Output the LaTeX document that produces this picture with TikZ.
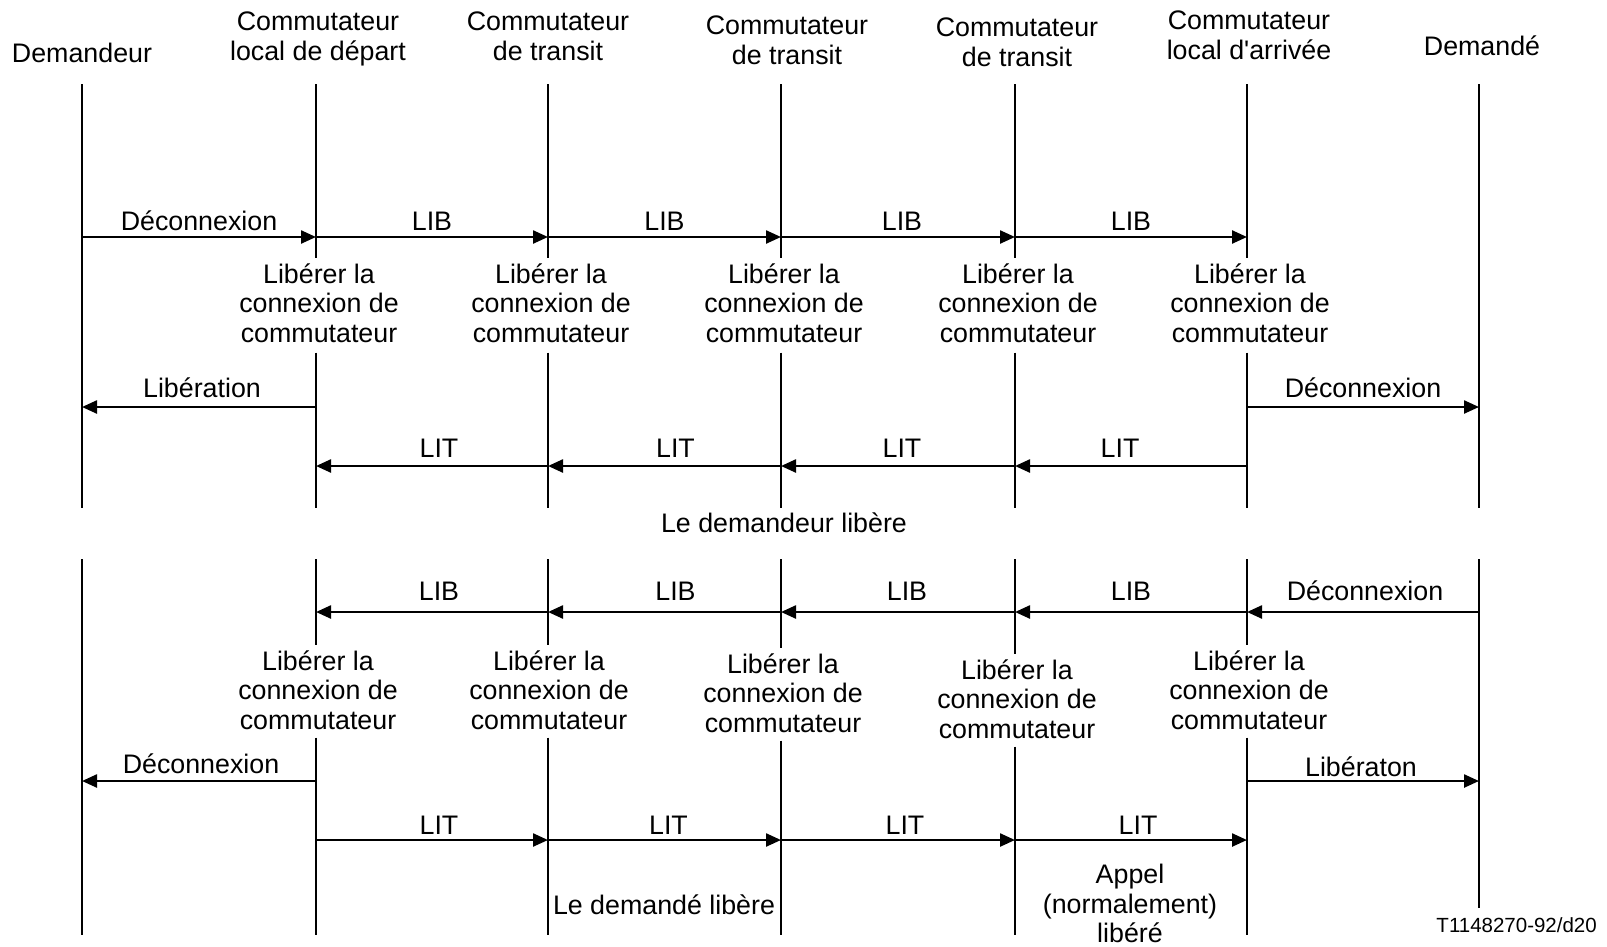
\documentclass[tikz,border=0pt]{standalone}
\usepackage{fontspec}
\setmainfont{Liberation Sans}
\usetikzlibrary{arrows.meta}
\begin{document}
\begin{tikzpicture}[x=1pt,y=-1pt,
  every node/.style={font=\fontsize{26.8}{29.5}\selectfont, inner sep=0pt},
  life/.style={line width=2.4pt},
  msg/.style={line width=2.4pt, -{Triangle[length=15pt,width=13pt]}},
  lbl/.style={anchor=base, yshift=#1},
  head/.style={align=center, font=\fontsize{26.8}{30}\selectfont},
  action/.style={align=center, inner ysep=5pt},
]
\useasboundingbox (0,0) rectangle (1607,946);

% points on the lifelines: message rows and section ends
\foreach \n/\x in {A/82,B/316,C/548,D/781,E/1015,F/1247,G/1479}{
  \foreach \r/\y in {1/237,2/407,3/466,4/612,5/781,6/840}{
    \coordinate (\n\r) at (\x,\y);
  }
  \coordinate (\n-t) at (\x,84);
  \coordinate (\n-m) at (\x,508);
  \coordinate (\n-s) at (\x,559);
  \coordinate (\n-e) at (\x,935);
}
\coordinate (G-e2) at (1479,908);

% column headings
\node (hA) at (82,53) {Demandeur};
\node[head] (hB) at (318,38.5) {Commutateur\\local de départ};
\node[head] (hC) at (548,36) {Commutateur\\de transit};
\node[head] (hD) at (787,40) {Commutateur\\de transit};
\node[head] (hE) at (1017,42) {Commutateur\\de transit};
\node[head] (hF) at (1249,35) {Commutateur\\local d\textquotesingle arrivée};
\node (hG) at (1482,46) {Demandé};

% ---------- the calling party clears ----------
\foreach \n/\x in {B/319,C/551,D/784,E/1018,F/1250}{
  \node[action] (act\n1) at (\x,303) {Libérer la\\connexion de\\commutateur};
  \coordinate (\n-g1) at ([yshift=-5pt]act\n1.south);
  \draw[life] (\n-t) -- (act\n1.north -| \n-t);
  \draw[life] (\n-g1 -| \n-t) -- (\n-m);
}
\draw[life] (A-t) -- (A-m);
\draw[life] (G-t) -- (G-m);

\draw[msg] (A1) -- node[lbl=7pt] (m11) {Déconnexion} (B1);
\draw[msg] (B1) -- node[lbl=7pt] (m12) {LIB} (C1);
\draw[msg] (C1) -- node[lbl=7pt] (m13) {LIB} (D1);
\draw[msg] (D1) -- node[lbl=7pt, xshift=4pt] (m14) {LIB} (E1);
\draw[msg] (E1) -- node[lbl=7pt] (m15) {LIB} (F1);

\draw[msg] (B2) -- node[lbl=10pt, xshift=3pt] (m21) {Libération} (A2);
\draw[msg] (F2) -- node[lbl=10pt] (m22) {Déconnexion} (G2);

\draw[msg] (F3) -- node[lbl=9pt, xshift=-11pt] (m31) {LIT} (E3);
\draw[msg] (E3) -- node[lbl=9pt, xshift=4pt] (m32) {LIT} (D3);
\draw[msg] (D3) -- node[lbl=9pt, xshift=11pt] (m33) {LIT} (C3);
\draw[msg] (C3) -- node[lbl=9pt, xshift=7pt] (m34) {LIT} (B3);

\node (cap1) at (784,523) {Le demandeur libère};

% ---------- the called party clears ----------
\foreach \n/\x/\y in {B/318/690,C/549/690,D/783/693,E/1017/699,F/1249/690}{
  \node[action] (act\n2) at (\x,\y) {Libérer la\\connexion de\\commutateur};
  \coordinate (\n-g2) at ([yshift=-3pt]act\n2.south);
  \draw[life] (\n-s) -- (act\n2.north -| \n-s);
  \draw[life] (\n-g2 -| \n-s) -- (\n-e);
}
\draw[life] (A-s) -- (A-e);
\draw[life] (G-s) -- (G-e2);

\draw[msg] (G4) -- node[lbl=11.5pt, xshift=2pt] (m41) {Déconnexion} (F4);
\draw[msg] (F4) -- node[lbl=11.5pt] (m42) {LIB} (E4);
\draw[msg] (E4) -- node[lbl=11.5pt, xshift=9pt] (m43) {LIB} (D4);
\draw[msg] (D4) -- node[lbl=11.5pt, xshift=11pt] (m44) {LIB} (C4);
\draw[msg] (C4) -- node[lbl=11.5pt, xshift=7pt] (m45) {LIB} (B4);

\draw[msg] (B5) -- node[lbl=8pt, xshift=2pt] (m51) {Déconnexion} (A5);
\draw[msg] (F5) -- node[lbl=5pt, xshift=-2pt] (m52) {Libératon} (G5);

\draw[msg] (B6) -- node[lbl=5.5pt, xshift=7pt] (m61) {LIT} (C6);
\draw[msg] (C6) -- node[lbl=5.5pt, xshift=4pt] (m62) {LIT} (D6);
\draw[msg] (D6) -- node[lbl=5.5pt, xshift=7pt] (m63) {LIT} (E6);
\draw[msg] (E6) -- node[lbl=5.5pt, xshift=7pt] (m64) {LIT} (F6);

\node (cap2) at (664,905) {Le demandé libère};
\node[align=center] (cap3) at (1130,903.5) {Appel\\(normalement)\\libéré};

\node[font=\fontsize{20.5}{24}\selectfont, anchor=base east] (ref) at (1597,932) {T1148270-92/d20};
\end{tikzpicture}
\end{document}
